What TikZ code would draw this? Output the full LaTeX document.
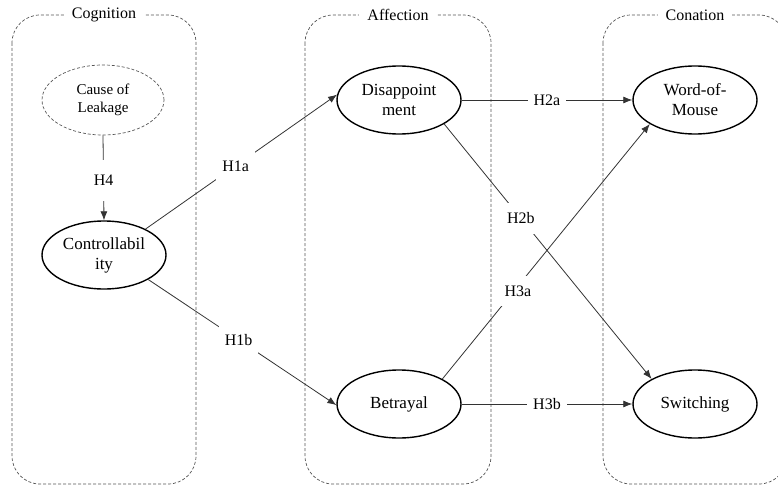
\documentclass[tikz,border=0pt]{standalone}
\usepackage{fontspec}
\setmainfont{Liberation Serif}
\newfontfamily\tnr{Liberation Serif}
\usetikzlibrary{shapes.geometric,arrows.meta}
\definecolor{boxgray}{HTML}{555555}
\definecolor{linegray}{HTML}{333333}
\tikzset{
  groupbox/.style={draw=boxgray, line width=0.7pt, dash pattern=on 3pt off 2pt, rounded corners=28pt},
  grouplabel/.style={fill=white, inner xsep=8pt, inner ysep=2pt, font=\tnr\fontsize{16}{18}\selectfont},
  construct/.style={ellipse, draw=black, line width=1.4pt, minimum width=124pt, minimum height=68pt, inner sep=0pt, align=center, font=\tnr\fontsize{17}{20}\selectfont},
  dashconstruct/.style={ellipse, draw=boxgray, line width=0.7pt, dash pattern=on 3pt off 2pt, minimum width=122pt, minimum height=70pt, inner sep=0pt, align=center, font=\tnr\fontsize{15}{18}\selectfont},
  path/.style={draw=linegray, line width=0.8pt, -{Latex[length=9pt,width=7pt]}},
  hyp/.style={fill=white, inner xsep=6pt, inner ysep=10pt, font=\tnr\fontsize{16}{18}\selectfont, text=black}
}
\begin{document}
\begin{tikzpicture}[x=1pt,y=-1pt]
\useasboundingbox (0,0) rectangle (778,487);
% group boxes
\draw[groupbox] (12,15) rectangle (196,484);
\draw[groupbox] (305,15) rectangle (491,484);
\draw[groupbox] (603,15) rectangle (787,484);
\node[grouplabel] (gcog) at (104,15) {Cognition};
\node[grouplabel] (gaff) at (398,15) {Affection};
\node[grouplabel] (gcon) at (695,15) {Conation};
% constructs
\node[dashconstruct] (cause) at (103,100) {Cause of\\Leakage};
\node[construct] (ctrl) at (104,255) {Controllabil\\ity};
\node[construct] (dis) at (399,100) {Disappoint\\ment};
\node[construct] (bet) at (399,404) {Betrayal};
\node[construct] (wom) at (695,100) {Word-of-\\Mouse};
\node[construct] (sw) at (695,404) {Switching};
% paths
\draw[path] (cause.south) -- node[hyp, inner ysep=15pt, pos=0.53] (h4) {H4} (ctrl.north);
\draw[path] (ctrl.32) -- node[hyp, pos=0.47] (h1a) {H1a} (dis.175);
\draw[path] (ctrl.-29) -- node[hyp, pos=0.48] (h1b) {H1b} (bet.181);
\draw[path] (dis.east) -- node[hyp] (h2a) {H2a} (wom.west);
\draw[path] (bet.east) -- node[hyp] (h3b) {H3b} (sw.west);
\draw[path] (dis.-28) -- node[hyp, pos=0.37] (h2b) {H2b} (sw.150);
\draw[path] (bet.30) -- node[hyp, pos=0.345, xshift=4pt] (h3a) {H3a} (wom.-152);
\end{tikzpicture}
\end{document}
